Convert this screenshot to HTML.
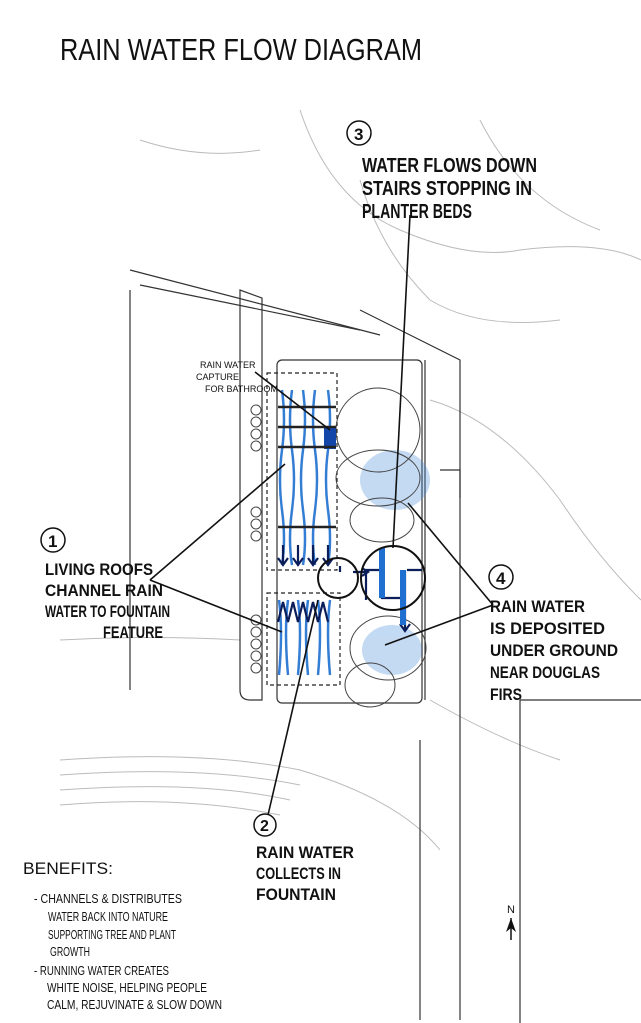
<!DOCTYPE html>
<html><head><meta charset="utf-8"><style>
html,body{margin:0;padding:0;background:#fff;}
svg{display:block;}
.t{font-family:"Liberation Sans Narrow","Liberation Sans",sans-serif;fill:#111;}
.b{font-weight:bold;}
</style></head><body>
<svg width="641" height="1023" viewBox="0 0 641 1023" xmlns="http://www.w3.org/2000/svg">
<text class="t" x="60" y="60" font-size="31" textLength="362" lengthAdjust="spacingAndGlyphs">RAIN WATER FLOW DIAGRAM</text>
<g fill="none" stroke="#bbb" stroke-width="1">
<path d="M300 110 Q330 200 400 230 Q470 260 520 250 Q600 240 641 260"/>
<path d="M140 140 Q200 160 260 150"/>
<path d="M360 180 Q380 250 430 300 Q480 330 560 320"/>
<path d="M480 120 Q520 200 600 230"/>
<path d="M430 400 Q500 420 560 500 Q600 560 641 600"/>
<path d="M60 640 Q150 635 240 640"/>
<path d="M60 760 Q200 750 300 770 Q400 800 440 850"/>
<path d="M60 775 Q200 765 300 785"/>
<path d="M60 790 Q200 780 290 800"/>
<path d="M60 805 Q180 795 280 815"/>
<path d="M430 700 Q500 740 560 760"/>
</g>
<g fill="none" stroke="#333" stroke-width="1.2">
<path d="M130 270 L380 335"/>
<path d="M140 285 L360 330"/>
<path d="M130 290 L130 690"/>
<path d="M360 310 L460 360 L460 498"/>
<path d="M240 290 L240 690 Q240 700 250 700 L262 700 L262 298 Z"/>
<path d="M425 360 L425 700"/>
<path d="M440 470 L460 470 L460 1020"/>
<path d="M520 700 L641 700"/>
<path d="M520 700 L520 1023"/>
<path d="M420 740 L420 1020"/>
</g>
<g fill="none" stroke="#444" stroke-width="1">
<circle cx="256" cy="410" r="5"/><circle cx="256" cy="422" r="5"/><circle cx="256" cy="434" r="5"/><circle cx="256" cy="446" r="5"/>
<circle cx="256" cy="512" r="5"/><circle cx="256" cy="524" r="5"/><circle cx="256" cy="536" r="5"/>
<circle cx="256" cy="620" r="5"/><circle cx="256" cy="632" r="5"/><circle cx="256" cy="644" r="5"/><circle cx="256" cy="656" r="5"/><circle cx="256" cy="668" r="5"/>
</g>
<rect x="277" y="360" width="145" height="343" rx="5" fill="none" stroke="#333" stroke-width="1.2"/>
<rect x="267" y="373" width="70" height="197" fill="none" stroke="#222" stroke-dasharray="4,3" stroke-width="1.2"/>
<rect x="267" y="593" width="73" height="92" fill="none" stroke="#222" stroke-dasharray="4,3" stroke-width="1.2"/>
<g fill="#3a86d8" opacity="0.3"><ellipse cx="395" cy="480" rx="35" ry="30"/><ellipse cx="392" cy="650" rx="30" ry="25"/></g>
<g fill="none" stroke="#444" stroke-width="1">
<ellipse cx="378" cy="430" rx="42" ry="42"/>
<ellipse cx="378" cy="478" rx="42" ry="28"/>
<ellipse cx="382" cy="520" rx="32" ry="22"/>
<ellipse cx="388" cy="648" rx="38" ry="32"/>
<ellipse cx="370" cy="685" rx="25" ry="22"/>
</g>
<g fill="none" stroke="#1f6fd0" stroke-width="2.5" opacity="0.9">
<path d="M282 390 q4 30 0 60 t0 60 t0 55"/>
<path d="M292 390 q-4 30 0 60 t0 60 t0 55"/>
<path d="M303 390 q4 30 0 60 t0 60 t0 55"/>
<path d="M315 390 q-4 30 0 60 t0 60 t0 55"/>
<path d="M328 390 q4 30 0 60 t0 60 t0 55"/>
<path d="M279 600 q4 30 0 75"/><path d="M288 600 q-4 30 0 75"/><path d="M298 600 q4 30 0 75"/><path d="M308 600 q-4 30 0 75"/><path d="M318 600 q4 30 0 75"/><path d="M330 600 q-4 30 0 75"/>
</g>
<rect x="324" y="427" width="12" height="22" fill="#1346a8"/>
<g stroke="#222" stroke-width="2.5"><line x1="278" y1="407" x2="336" y2="407"/><line x1="278" y1="427" x2="336" y2="427"/><line x1="278" y1="447" x2="336" y2="447"/><line x1="278" y1="527" x2="336" y2="527"/></g>
<g fill="none" stroke="#0c1e5a" stroke-width="2.2">
<path d="M283 545 v20 M278 558 l5 7 l5-7"/><path d="M298 545 v20 M293 558 l5 7 l5-7"/><path d="M313 545 v20 M308 558 l5 7 l5-7"/><path d="M328 545 v20 M323 558 l5 7 l5-7"/>
<path d="M278 622 l5-20 l5 20 l5-20 l5 20 l5-20 l5 20 l5-20 l5 20 l5-20 l5 20"/>
<path d="M340 566 v6 M353 572 h15 M362 568 l6 4 l-6 4"/>
<path d="M366 600 v-30 h15 M382 548 v50 h20"/>
<path d="M407 570 h15 M405 570 v60 M400 624 l5 7 l5-7"/>
</g>
<rect x="379" y="548" width="6" height="50" fill="#1f6fd0"/>
<rect x="400" y="570" width="6" height="55" fill="#1f6fd0"/>
<circle cx="338" cy="578" r="20" fill="none" stroke="#111" stroke-width="2"/>
<circle cx="393" cy="578" r="32" fill="none" stroke="#111" stroke-width="2"/>
<g stroke="#111" stroke-width="1.6" fill="none">
<line x1="150" y1="580" x2="285" y2="464"/>
<line x1="150" y1="580" x2="282" y2="632"/>
<line x1="410" y1="215" x2="393" y2="548"/>
<line x1="493" y1="605" x2="408" y2="503"/>
<line x1="493" y1="605" x2="385" y2="645"/>
<line x1="268" y1="815" x2="318" y2="600"/>
<line x1="255" y1="372" x2="330" y2="430"/>
</g>
<text class="t" x="200" y="368" font-size="9">RAIN WATER</text>
<text class="t" x="196" y="380" font-size="9">CAPTURE</text>
<text class="t" x="205" y="392" font-size="9">FOR BATHROOM</text>

<circle cx="359" cy="133" r="12" fill="none" stroke="#111" stroke-width="1.5"/>
<text class="t b" x="354" y="140" font-size="17">3</text>
<text class="t b" x="362" y="172" font-size="20" textLength="175" lengthAdjust="spacingAndGlyphs">WATER FLOWS DOWN</text>
<text class="t b" x="362" y="195" font-size="20" textLength="170" lengthAdjust="spacingAndGlyphs">STAIRS STOPPING IN</text>
<text class="t b" x="362" y="218" font-size="20" textLength="110" lengthAdjust="spacingAndGlyphs">PLANTER BEDS</text>

<circle cx="53" cy="540" r="12" fill="none" stroke="#111" stroke-width="1.5"/>
<text class="t b" x="48" y="547" font-size="17">1</text>
<text class="t b" x="45" y="575" font-size="17" textLength="108" lengthAdjust="spacingAndGlyphs">LIVING ROOFS</text>
<text class="t b" x="45" y="596" font-size="17" textLength="118" lengthAdjust="spacingAndGlyphs">CHANNEL RAIN</text>
<text class="t b" x="45" y="617" font-size="17" textLength="125" lengthAdjust="spacingAndGlyphs">WATER TO FOUNTAIN</text>
<text class="t b" x="103" y="638" font-size="17" textLength="60" lengthAdjust="spacingAndGlyphs">FEATURE</text>

<circle cx="501" cy="577" r="12" fill="none" stroke="#111" stroke-width="1.5"/>
<text class="t b" x="496" y="584" font-size="17">4</text>
<text class="t b" x="490" y="612" font-size="17" textLength="95" lengthAdjust="spacingAndGlyphs">RAIN WATER</text>
<text class="t b" x="490" y="634" font-size="17" textLength="115" lengthAdjust="spacingAndGlyphs">IS DEPOSITED</text>
<text class="t b" x="490" y="656" font-size="17" textLength="128" lengthAdjust="spacingAndGlyphs">UNDER GROUND</text>
<text class="t b" x="490" y="678" font-size="17" textLength="110" lengthAdjust="spacingAndGlyphs">NEAR DOUGLAS</text>
<text class="t b" x="490" y="700" font-size="17" textLength="32" lengthAdjust="spacingAndGlyphs">FIRS</text>

<circle cx="265" cy="825" r="11" fill="none" stroke="#111" stroke-width="1.5"/>
<text class="t b" x="260" y="831" font-size="16">2</text>
<text class="t b" x="256" y="858" font-size="17" textLength="98" lengthAdjust="spacingAndGlyphs">RAIN WATER</text>
<text class="t b" x="256" y="879" font-size="17" textLength="85" lengthAdjust="spacingAndGlyphs">COLLECTS IN</text>
<text class="t b" x="256" y="900" font-size="17" textLength="80" lengthAdjust="spacingAndGlyphs">FOUNTAIN</text>

<text class="t" x="23" y="874" font-size="17" textLength="90" lengthAdjust="spacingAndGlyphs">BENEFITS:</text>
<g font-size="13">
<text class="t" x="34" y="903" textLength="148" lengthAdjust="spacingAndGlyphs">- CHANNELS &amp; DISTRIBUTES</text>
<text class="t" x="48" y="921" textLength="120" lengthAdjust="spacingAndGlyphs">WATER BACK INTO NATURE</text>
<text class="t" x="48" y="939" textLength="128" lengthAdjust="spacingAndGlyphs">SUPPORTING TREE AND PLANT</text>
<text class="t" x="50" y="956" textLength="40" lengthAdjust="spacingAndGlyphs">GROWTH</text>
<text class="t" x="34" y="975" textLength="135" lengthAdjust="spacingAndGlyphs">- RUNNING WATER CREATES</text>
<text class="t" x="47" y="992" textLength="160" lengthAdjust="spacingAndGlyphs">WHITE NOISE, HELPING PEOPLE</text>
<text class="t" x="47" y="1009" textLength="175" lengthAdjust="spacingAndGlyphs">CALM, REJUVINATE &amp; SLOW DOWN</text>
</g>
<text class="t" x="507" y="913" font-size="11">N</text>
<path d="M511 918 L506 932 L511 928 L516 932 Z" fill="#111"/>
<line x1="511" y1="918" x2="511" y2="940" stroke="#111" stroke-width="1.5"/>
</svg>
</body></html>
